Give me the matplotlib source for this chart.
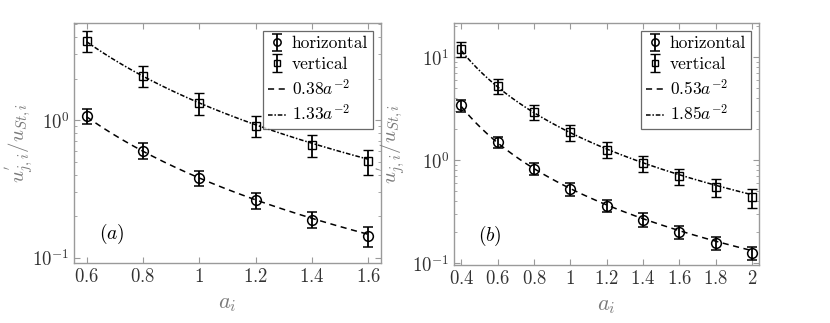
import numpy as np
import matplotlib
matplotlib.use("Agg")
import matplotlib.pyplot as plt
from matplotlib.ticker import FixedLocator, FixedFormatter, LogLocator, NullFormatter

plt.rcParams['mathtext.fontset'] = 'cm'
plt.rcParams['font.family'] = 'serif'
plt.rcParams['font.serif'] = ['cmr10', 'DejaVu Serif']
plt.rcParams['axes.formatter.use_mathtext'] = True

# Panel (a)
a_x = [0.6, 0.8, 1.0, 1.2, 1.4, 1.6]
a_h = [1.07, 0.60, 0.382, 0.263, 0.19, 0.144]
a_h_hi = [1.20, 0.685, 0.43, 0.297, 0.216, 0.167]
a_h_lo = [0.935, 0.52, 0.333, 0.228, 0.164, 0.121]
a_v = [3.76, 2.09, 1.32, 0.91, 0.66, 0.505]
a_v_hi = [4.41, 2.47, 1.57, 1.07, 0.78, 0.607]
a_v_lo = [3.09, 1.73, 1.09, 0.75, 0.537, 0.40]
a_fit_h = 0.38
a_fit_v = 1.33
a_xticks = [0.6, 0.8, 1.0, 1.2, 1.4, 1.6]
a_xticklabels = ['0.6', '0.8', '1', '1.2', '1.4', '1.6']

# Panel (b)
b_x = [0.4, 0.6, 0.8, 1.0, 1.2, 1.4, 1.6, 1.8, 2.0]
b_h = [3.4, 1.50, 0.83, 0.53, 0.363, 0.265, 0.20, 0.158, 0.126]
b_h_hi = [3.88, 1.69, 0.944, 0.603, 0.415, 0.304, 0.229, 0.18, 0.144]
b_h_lo = [2.95, 1.30, 0.715, 0.454, 0.313, 0.226, 0.17, 0.134, 0.107]
b_v = [12.1, 5.3, 2.92, 1.87, 1.27, 0.93, 0.70, 0.547, 0.44]
b_v_hi = [14.2, 6.17, 3.42, 2.21, 1.50, 1.09, 0.826, 0.65, 0.527]
b_v_lo = [10.1, 4.41, 2.44, 1.52, 1.05, 0.765, 0.568, 0.44, 0.345]
b_fit_h = 0.53
b_fit_v = 1.85
b_xticks = [0.4, 0.6, 0.8, 1.0, 1.2, 1.4, 1.6, 1.8, 2.0]
b_xticklabels = ['0.4', '0.6', '0.8', '1', '1.2', '1.4', '1.6', '1.8', '2']

fig = plt.figure(figsize=(8.3, 3.23), dpi=100)
W, H = 830, 323
axA = fig.add_axes([74 / W, 1 - 263 / H, (381 - 74) / W, (263 - 23) / H])
axB = fig.add_axes([454 / W, 1 - 265 / H, (759 - 454) / W, (265 - 23) / H])

spine_c = '#9a9a9a'
text_c = '#333333'
label_c = '#7a7a7a'


def draw(ax, x, h, hhi, hlo, v, vhi, vlo, fh, fv, xticks, xtl, xlim, ylim,
         yticks, ytl, tag, ylab_x):
    x = np.asarray(x)
    h = np.asarray(h); v = np.asarray(v)
    eh = [h - np.asarray(hlo), np.asarray(hhi) - h]
    ev = [v - np.asarray(vlo), np.asarray(vhi) - v]
    xf = np.linspace(x.min(), x.max(), 200)
    e1 = ax.errorbar(x, h, yerr=eh, fmt='o', mfc='none', mec='black', ecolor='black',
                     ms=7, mew=1.1, elinewidth=1.3, capsize=3.5, capthick=1.3,
                     zorder=3)
    e2 = ax.errorbar(x, v, yerr=ev, fmt='s', mfc='none', mec='black', ecolor='black',
                     ms=5.5, mew=1.0, elinewidth=1.3, capsize=3.5, capthick=1.3,
                     zorder=3)
    l1, = ax.plot(xf, fh * xf ** -2, color='black', lw=1.1, ls=(0, (4, 3)))
    l2, = ax.plot(xf, fv * xf ** -2, color='black', lw=1.1, ls=(0, (3, 1.2, 1, 1.2)))
    ax.set_yscale('log')
    ax.set_xlim(*xlim)
    ax.set_ylim(*ylim)
    ax.xaxis.set_major_locator(FixedLocator(xticks))
    ax.xaxis.set_major_formatter(FixedFormatter(['$%s$' % t for t in xtl]))
    ax.yaxis.set_major_locator(FixedLocator(yticks))
    ax.yaxis.set_major_formatter(FixedFormatter(ytl))
    ax.yaxis.set_minor_locator(LogLocator(base=10, subs=np.arange(2, 10)))
    ax.yaxis.set_minor_formatter(NullFormatter())
    ax.tick_params(which='both', direction='in', top=True, right=True,
                   colors=spine_c, labelcolor=text_c, labelsize=13.5)
    ax.tick_params(which='major', length=4, width=0.8)
    ax.tick_params(which='minor', length=2.5, width=0.6)
    for s in ax.spines.values():
        s.set_color(spine_c)
        s.set_linewidth(1.0)
    ax.set_xlabel(r'$a_i$', fontsize=16, color=label_c, labelpad=6)
    ax.set_ylabel(r"$u^{'}_{j,i}/u_{St,i}$", fontsize=15, color=label_c)
    ax.yaxis.set_label_coords(ylab_x, 0.5)
    ax.text(0.08, 0.1, tag, transform=ax.transAxes, fontsize=14, color='black')
    leg = ax.legend([e1, e2, l1, l2],
                    ['horizontal', 'vertical', r'$%.2fa^{-2}$' % fh, r'$%.2fa^{-2}$' % fv],
                    loc='upper right', frameon=True, fancybox=False,
                    edgecolor='#444444', handlelength=1.0, handletextpad=0.35,
                    borderpad=0.3, labelspacing=0.32, borderaxespad=0.45,
                    markerscale=0.75, prop={'family': 'cmr10', 'size': 12.5})
    leg.get_frame().set_linewidth(0.9)


draw(axA, a_x, a_h, a_h_hi, a_h_lo, a_v, a_v_hi, a_v_lo, a_fit_h, a_fit_v,
     a_xticks, a_xticklabels, (0.555, 1.645), (0.092, 5.05),
     [0.1, 1], [r'$10^{-1}$', r'$10^{0}$'], r'$(a)$', -0.125)
draw(axB, b_x, b_h, b_h_hi, b_h_lo, b_v, b_v_hi, b_v_lo, b_fit_h, b_fit_v,
     b_xticks, b_xticklabels, (0.359, 2.039), (0.096, 21.5),
     [0.1, 1, 10], [r'$10^{-1}$', r'$10^{0}$', r'$10^{1}$'], r'$(b)$', -0.15)

fig.savefig('out.png', dpi=100)
